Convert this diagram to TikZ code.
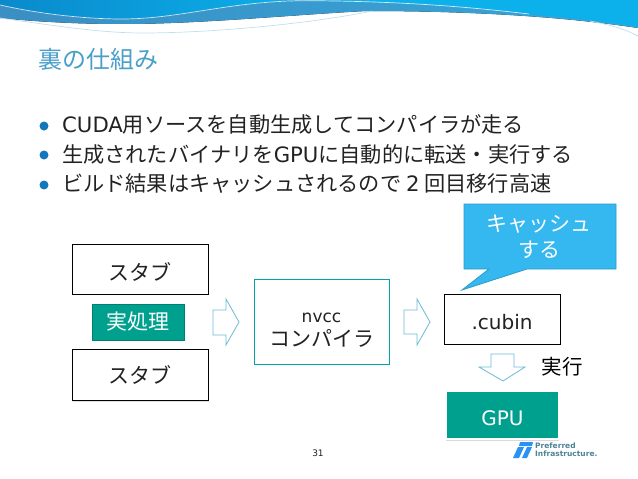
\documentclass[tikz,border=0pt]{standalone}
\usepackage{fontspec}
\setmainfont{Noto Sans CJK JP}
\newfontfamily\latinfont{DejaVu Sans}
\usetikzlibrary{shadows}
\definecolor{titleblue}{HTML}{4A9FC9}
\definecolor{bulletblue}{HTML}{1277BC}
\definecolor{bandleft}{HTML}{3A8FC4}
\definecolor{bandlight}{HTML}{36A6D9}
\definecolor{banddeep}{HTML}{0A8ACC}
\definecolor{bandcyan}{HTML}{0CB0EA}
\definecolor{linkblue}{HTML}{6CBAD6}
\definecolor{tealbox}{HTML}{00A08E}
\definecolor{notecyan}{HTML}{35B7EF}
\definecolor{textgray}{HTML}{222222}
\tikzset{
  bodytext/.style={anchor=west,inner sep=0pt,font=\fontsize{21.2}{24}\selectfont,text=textgray},
  bullet/.style={circle,fill=bulletblue,inner sep=0pt,minimum size=9pt},
  blackbox/.style={draw=black,fill=white,line width=.9pt,drop shadow={opacity=.25,shadow xshift=1pt,shadow yshift=-1pt},
    font=\fontsize{21}{26}\selectfont,align=center,text=textgray},
  tealnode/.style={fill=tealbox,text=white,align=center,font=\fontsize{21}{26}\selectfont},
  blockarrow/.style={draw=linkblue,fill=white,line width=.8pt},
  bandline/.style={white!55!linkblue,line width=.7pt},
}
\begin{document}
\begin{tikzpicture}[x=1pt,y=-1pt]
  \useasboundingbox (0,0) rectangle (638,479);
  % band along the top
  \fill[left color=bandleft,right color=bandlight]
    (0,0)--(0,18) .. controls (40,22) and (80,24) .. (122,24)
    .. controls (200,24) and (290,15) .. (366,11)
    .. controls (430,11) and (540,13) .. (638,28)--(638,0)--cycle;
  \fill[left color=banddeep,right color=bandcyan]
    (0,0)--(0,5) .. controls (40,14) and (85,19) .. (122,19)
    .. controls (180,19) and (230,1) .. (305,0.7)--(305,0)--cycle;
  \fill[bandcyan]
    (305,0) -- (305,0.7) .. controls (400,1) and (470,7) .. (529,14)
    .. controls (570,18) and (610,22) .. (638,27)--(638,0)--cycle;
  \draw[bandline,white!70!linkblue]
    (0,5) .. controls (40,14) and (85,19) .. (122,19)
    .. controls (180,19) and (230,1) .. (305,0.7)
    .. controls (400,1) and (470,7) .. (529,14);
  \draw[bandline]
    (0,18) .. controls (50,25) and (100,33) .. (142,33)
    .. controls (220,33) and (320,22) .. (372,11);
  \draw[bandline]
    (590,21) .. controls (610,25) and (625,29) .. (638,36);
  % title and list
  \node[anchor=west,inner sep=0pt,text=titleblue,font=\fontsize{24}{28}\selectfont] (title) at (38,59) {裏の仕組み};
  \node[bullet] (b1) at (44,126) {};
  \node[bullet] (b2) at (44,155) {};
  \node[bullet] (b3) at (44,185) {};
  \node[bodytext] (line1) at (62,124) {{\latinfont CUDA}用ソースを自動生成してコンパイラが走る};
  \node[bodytext] (line2) at (62,154) {生成されたバイナリを{\latinfont GPU}に自動的に転送・実行する};
  \node[bodytext] (line3) at (62,184) {ビルド結果はキャッシュされるので {\latinfont 2} 回目移行高速};
  % boxes
  \node[blackbox,minimum width=136pt,minimum height=50pt] (stubtop) at (140,269) {\rule{0pt}{24pt}スタブ};
  \node[tealnode,minimum width=92pt,minimum height=36pt,draw=tealbox!80!black] (realwork) at (138,322) {実処理};
  \node[blackbox,minimum width=136pt,minimum height=51pt] (stubbottom) at (140,375) {スタブ};
  \node[blackbox,draw=teal!70!cyan,minimum width=135pt,minimum height=85pt,line width=.8pt,font=\fontsize{21}{24}\selectfont] (nvcc) at (321.5,321.5)
    {{\latinfont\fontsize{17}{20}\selectfont\rule{0pt}{27pt}nvcc}\\コンパイラ};
  \node[blackbox,minimum width=116pt,minimum height=50pt,font=\latinfont\fontsize{20}{24}\selectfont] (cubin) at (502,319) {\rule{0pt}{22pt}.cubin};
  \node[tealnode,minimum width=113pt,minimum height=48pt,font=\latinfont\fontsize{20}{24}\selectfont,
    draw=white,line width=2pt,drop shadow={opacity=.3,shadow xshift=0pt,shadow yshift=-1.5pt}] (gpu) at (502.5,415) {\rule{0pt}{21pt}GPU};
  % block arrows
  \draw[blockarrow] (213,310)--(226,310)--(226,299)--(239,322)--(226,345)--(226,335)--(213,335)--cycle;
  \draw[blockarrow] (404,310)--(417,310)--(417,299)--(430,322)--(417,345)--(417,334)--(404,334)--cycle;
  \draw[blockarrow] (491,354)--(514,354)--(514,367)--(525,367)--(503,381)--(479,367)--(491,367)--cycle;
  \node[inner sep=0pt,text=black,font=\fontsize{20.5}{24}\selectfont] (run) at (562,367) {実行};
  % callout
  \draw[fill=notecyan,draw=notecyan!85!black,line width=.8pt]
    (464,204)--(616,204)--(616,269)--(527,269)--(462,290)--(489,269)--(464,269)--cycle;
  \node[align=center,text=white,inner sep=0pt,font=\fontsize{21}{26}\selectfont] (cachenote) at (539,237) {キャッシュ\\する};
  % footer
  \node[text=textgray,inner sep=0pt,font=\latinfont\fontsize{9}{10}\selectfont] (pagenum) at (318,453) {31};
  \fill[notecyan!80!blue] (520,442)--(533,442)--(532,446)--(519,446)--cycle;
  \fill[notecyan!80!blue] (518,447)--(524,447)--(519,458)--(513,458)--cycle;
  \fill[notecyan!80!blue] (527,447)--(532,447)--(527,458)--(522,458)--cycle;
  \node[anchor=west,align=left,inner sep=0pt,text=linkblue!70!black,font=\latinfont\bfseries\fontsize{7.5}{8}\selectfont] (logo) at (535,449.5) {Preferred\\Infrastructure.};
\end{tikzpicture}
\end{document}
